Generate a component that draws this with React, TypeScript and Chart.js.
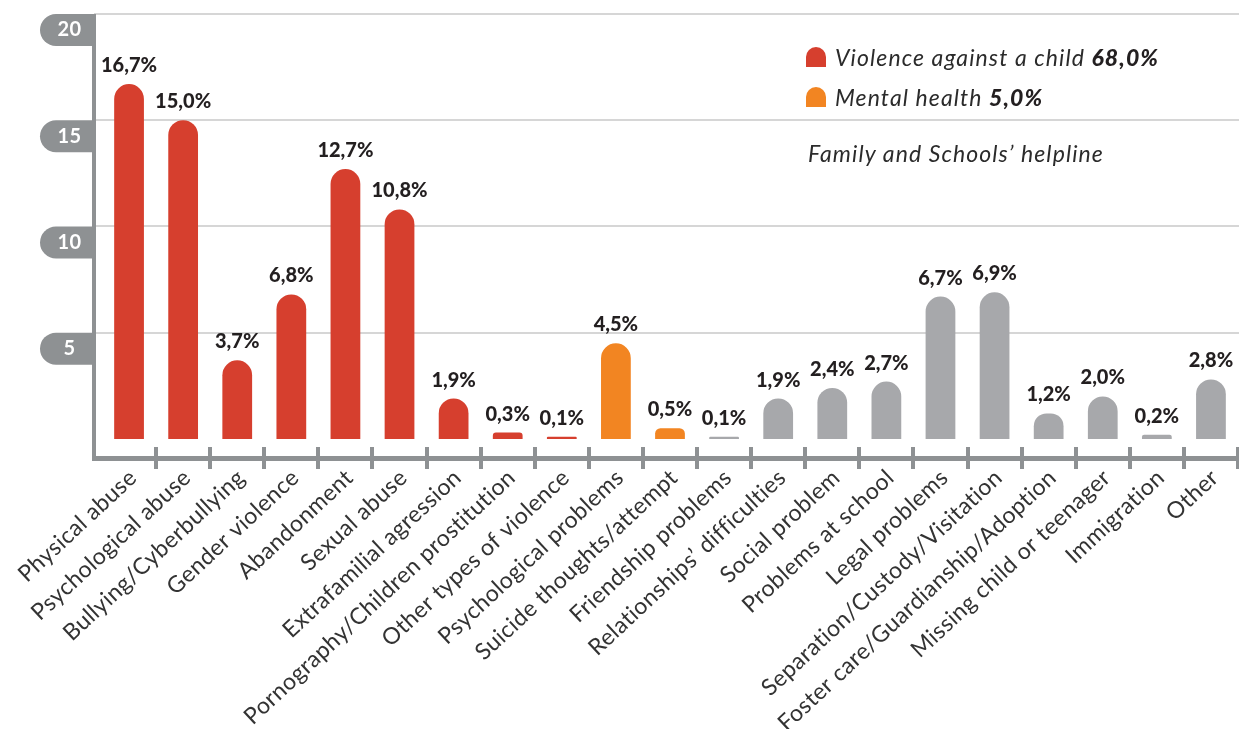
import React, { useEffect, useRef } from "react";
import { Chart, registerables } from "chart.js";

Chart.register(...registerables);

const categories: string[] = [
  "Physical abuse",
  "Psychological abuse",
  "Bullying/Cyberbullying",
  "Gender violence",
  "Abandonment",
  "Sexual abuse",
  "Extrafamilial agression",
  "Pornography/Children prostitution",
  "Other types of violence",
  "Psychological problems",
  "Suicide thoughts/attempt",
  "Friendship problems",
  "Relationships’ difficulties",
  "Social problem",
  "Problems at school",
  "Legal problems",
  "Separation/Custody/Visitation",
  "Foster care/Guardianship/Adoption",
  "Missing child or teenager",
  "Immigration",
  "Other",
];

const values: number[] = [
  16.7, 15.0, 3.7, 6.8, 12.7, 10.8, 1.9, 0.3, 0.1, 4.5, 0.5, 0.1, 1.9, 2.4, 2.7,
  6.7, 6.9, 1.2, 2.0, 0.2, 2.8,
];

// group of each category: 0 = violence against a child, 1 = mental health, 2 = other
const groups: number[] = [0, 0, 0, 0, 0, 0, 0, 0, 0, 1, 1, 2, 2, 2, 2, 2, 2, 2, 2, 2, 2];

const groupColors: string[] = ["#d63f2e", "#f28522", "#a7a8ab"];

const yTicks: number[] = [5, 10, 15, 20];

const legendLabels: string[] = ["Violence against a child", "Mental health"];
const legendTotals: string[] = ["68,0%", "5,0%"];
const noteText = "Family and Schools’ helpline";

const FONT = "Lato, 'Noto Sans', sans-serif";
const AXIS_GREY = "#8e9193";
const TEXT_DARK = "#231f20";

const fmt = (v: number) => v.toFixed(1).replace(".", ",") + "%";

const decorPlugin = {
  id: "decor",
  beforeDraw(chart: any) {
    const { ctx, chartArea, scales } = chart;
    const x = scales.x;
    const y = scales.y;
    const W = chart.width;
    const axisX = chartArea.left - 8;
    ctx.save();
    // grid lines
    ctx.fillStyle = "#d6d6d6";
    yTicks.forEach((v) => {
      const py = Math.round(y.getPixelForValue(v));
      ctx.fillRect(axisX, py - 1, W - axisX, 2);
    });
    // pills behind tick labels
    ctx.fillStyle = AXIS_GREY;
    yTicks.forEach((v) => {
      const py = y.getPixelForValue(v);
      const left = axisX - 54;
      const h = 32;
      const r = 16;
      ctx.beginPath();
      ctx.moveTo(axisX + 2, py);
      ctx.lineTo(left + r, py);
      ctx.arc(left + r, py + r, r, -Math.PI / 2, Math.PI / 2, true);
      ctx.lineTo(axisX + 2, py + h);
      ctx.closePath();
      ctx.fill();
    });
    // y axis line
    const top = y.getPixelForValue(20);
    const bottom = chartArea.bottom;
    ctx.fillRect(axisX - 2, top, 4, bottom - top + 2);
    // x axis line
    ctx.fillRect(axisX - 2, bottom - 2, W - axisX + 2, 5);
    // tick marks between categories
    const n = categories.length;
    const step = (chartArea.right - chartArea.left) / n;
    for (let i = 0; i < n; i++) {
      const px = x.getPixelForValue(i) + step / 2;
      ctx.fillRect(Math.round(px) - 2, bottom - 11, 4, 22);
    }
    ctx.restore();
    // slightly wider letter spacing for the axis labels (geometric wide face in the original)
    ctx.letterSpacing = "0.4px";
  },
  afterDatasetsDraw(chart: any) {
    const { ctx } = chart;
    const meta = chart.getDatasetMeta(0);
    ctx.save();
    ctx.letterSpacing = "0px";
    ctx.font = `900 20px ${FONT}`;
    ctx.fillStyle = TEXT_DARK;
    ctx.textAlign = "center";
    ctx.textBaseline = "alphabetic";
    meta.data.forEach((el: any, i: number) => {
      ctx.fillText(fmt(values[i]), el.x, el.y - 12);
    });
    ctx.restore();
  },
  afterDraw(chart: any) {
    chart.ctx.letterSpacing = "0px";
  },
};

export default function App() {
  const canvasRef = useRef<HTMLCanvasElement | null>(null);

  useEffect(() => {
    if (!canvasRef.current) return;
    const chart = new Chart(canvasRef.current, {
      type: "bar",
      data: {
        labels: categories,
        datasets: [
          {
            data: values,
            backgroundColor: groups.map((g) => groupColors[g]),
            borderRadius: 16,
            borderSkipped: "start",
            barPercentage: 0.55,
            categoryPercentage: 1,
          },
        ],
      },
      options: {
        animation: false,
        responsive: false,
        devicePixelRatio: 1,
        layout: { padding: { top: 14, right: 1, left: 0, bottom: 0 } },
        plugins: {
          legend: { display: false },
          tooltip: { enabled: false },
          title: { display: false },
        },
        scales: {
          x: {
            offset: true,
            grid: { display: false, drawTicks: false },
            border: { display: false },
            ticks: {
              autoSkip: false,
              minRotation: 43,
              maxRotation: 43,
              padding: 6,
              labelOffset: 4,
              color: "#333333",
              font: { family: FONT, size: 23 },
            },
            afterFit: (scale: any) => {
              scale.height = 729 - 458;
              scale.paddingLeft = 0;
              scale.paddingRight = 0;
            },
          },
          y: {
            min: -0.9,
            max: 20,
            grid: { display: false, drawTicks: false },
            border: { display: false },
            afterBuildTicks: (scale: any) => {
              scale.ticks = yTicks.map((v) => ({ value: v }));
            },
            ticks: {
              crossAlign: "center",
              padding: 21,
              labelOffset: 16,
              color: "#ffffff",
              font: { family: FONT, size: 20, weight: "bold" },
            },
            afterFit: (scale: any) => {
              scale.width = 102;
              scale.paddingTop = 0;
              scale.paddingBottom = 0;
            },
          },
        },
      },
      plugins: [decorPlugin],
    });
    return () => chart.destroy();
  }, []);

  const legendBase: React.CSSProperties = {
    position: "absolute",
    fontFamily: FONT,
    fontStyle: "italic",
    fontSize: 23,
    letterSpacing: "1.1px",
    lineHeight: "24px",
    color: "#2b2b2b",
    whiteSpace: "nowrap",
  };

  return (
    <div style={{ position: "absolute", left: 0, top: 0, width: 1239, height: 729, background: "#ffffff" }}>
      <canvas ref={canvasRef} width={1239} height={729} style={{ display: "block" }} />
      {legendLabels.map((lab, i) => (
        <React.Fragment key={lab}>
          <div
            style={{
              position: "absolute",
              left: 806,
              top: 47 + i * 40,
              width: 20,
              height: 20,
              borderRadius: "10px 10px 0 0",
              background: groupColors[i],
            }}
          />
          <div style={{ ...legendBase, left: 835, top: 45 + i * 40 }}>
            {lab} <b style={{ fontWeight: 900, color: TEXT_DARK }}>{legendTotals[i]}</b>
          </div>
        </React.Fragment>
      ))}
      <div style={{ ...legendBase, left: 808, top: 141 }}>{noteText}</div>
    </div>
  );
}
